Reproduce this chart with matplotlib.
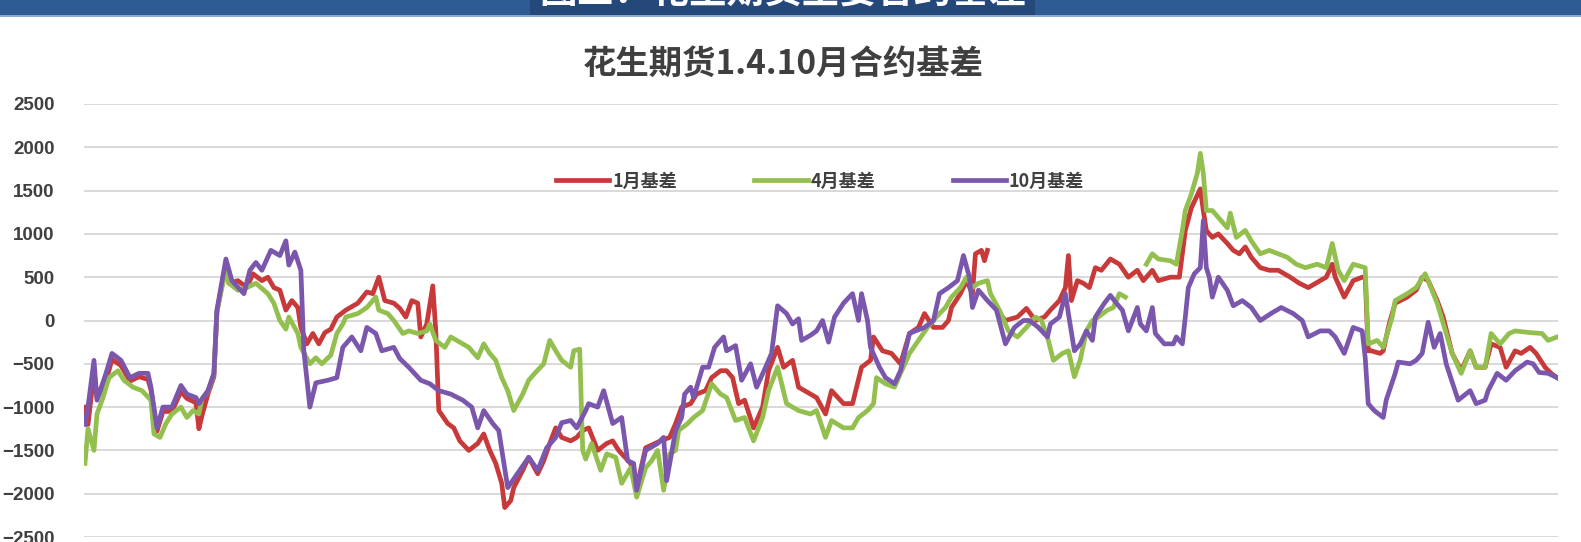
import numpy as np
import matplotlib
matplotlib.use("Agg")
import matplotlib.pyplot as plt
from matplotlib.patches import Rectangle

plt.rcParams['font.family'] = ['Noto Sans CJK SC', 'DejaVu Sans']
plt.rcParams['axes.unicode_minus'] = True

nan = np.nan

# ---- data (trading-day index, basis value) ----
jan_days = [0, 1, 3, 4, 7, 9, 12, 15, 18, 21, 22, 24, 26, 29, 32, 34, 37, 38, 39, 41, 43, 44, 47, 48, 51, 54, 56, 59, 61, 63,
            65, 67, 69, 71, 72, 74, 76, 78, 80, 82, 84, 87, 91, 94, 96, 98, 100, 103, 105, 107, 109, 111, 112, 114, 116, 117,
            118, 121, 123, 125, 128, 131, 133, 135, 137, 139, 140, 142, 143, 146, 148, 151, 153, 155, 157, 159, 162, 164, 166,
            168, 171, 174, 176, 178, 182, 184, 187, 192, 195, 197, 199, 202, 204, 207, 209, 212, 214, 216, 218, 220, 223, 226,
            228, 231, 233, 236, 238, 242, 244, 247, 249, 253, 256, 259, 262, 263, 266, 269, 272, 275, 278, 280, 283, 286, 288,
            289, 292, 294, 296, 297, 299, 300, 301, 303, 306, 307, 311, 314, 317, 320, 322, 325, 327, 328, 329, 331, 333, 335,
            337, 339, 342, 345, 348, 351, 353, 356, 358, 362, 365, 367, 369, 372, 373, 374, 376, 378, 381, 383, 385, 387, 389,
            392, 395, 398, 402, 405, 408, 412, 414, 416, 417, 420, 423, 426, 427, 428, 429, 432, 433, 435, 437, 441, 444, 446,
            448, 451, 453, 456, 459, 462, 464, 467, 469, 472, 474, 477, 479, 482, 484, 487, 489, 491]
jan_vals = [-1000, -1200, -600, -890, -700, -450, -520, -700, -650, -680, -800, -1280, -1050, -1050, -820, -900, -950, -1250,
            -1100, -850, -650, 100, 650, 430, 460, 380, 540, 460, 500, 380,
            350, 120, 230, 150, -80, -270, -150, -270, -140, -100, 40, 120, 200, 330, 310, 500, 230, 200, 140, 40, 230, 200,
            -190, -40, 400, -120,
            -1040, -1190, -1240, -1390, -1500, -1420, -1310, -1500, -1650, -1880, -2160, -2080, -1930, -1730, -1580, -1770,
            -1620, -1420, -1240, -1350, -1390, -1350, -1270,
            -1240, -1500, -1420, -1390, -1500, -1650, -1930, -1470, -1390, -1350, -1190, -1000, -960, -850, -810, -660, -580,
            -580, -660, -960, -920, -1240, -1000,
            -580, -310, -540, -460, -770, -850, -890, -1080, -810, -960, -960, -540, -460, -190, -350, -380, -500, -150, -80,
            80, -80, -80, 0,
            150, 310, 460, 310, 770, 810, 690, 810, nan, 40, 0, 40, 140, 0, 40, 120, 230, 380, 750, 230, 460, 430, 380,
            610, 580, 710, 650, 500, 580, 460, 580, 460, 500, 500, 1040, 1300, 1520, 1270, 1040, 960, 1000, 890, 810, 770,
            850, 730,
            610, 580, 580, 500, 430, 380, 460, 500, 650, 500, 270, 460, 500, 500, -350, -350, -380, -350, -40, 200, 270, 350,
            500,
            460, 230, 40, -380, -580, -350, -540, -540, -270, -310, -540, -350, -380, -310, -380, -540, -610, -660]

apr_days = [0, 1, 3, 4, 6, 8, 11, 13, 16, 19, 22, 23, 25, 27, 29, 32, 34, 36, 38, 39, 41, 43, 44, 47, 48, 51, 54, 57, 61, 63,
            65, 67, 68, 71, 72, 75, 77, 79, 82, 84, 86, 87, 91, 94, 97, 98, 101, 103, 106, 108, 111, 114, 115, 117, 120, 122,
            126, 128, 131, 133, 135, 137, 139, 141, 143, 146, 148, 150, 153, 155, 157, 159, 162, 163, 165, 166, 167, 169, 172,
            174, 177, 179, 182, 184, 187, 189, 191, 193, 195, 197, 198, 201, 203, 206, 209, 212, 214, 217, 220, 223, 226, 228,
            231, 234, 236, 238, 242, 244, 247, 249, 253, 256, 258, 261, 263, 264, 267, 270, 272, 275, 278, 281, 283, 285, 287,
            289, 292, 294, 296, 298, 301, 302, 305, 308, 311, 314, 317, 319, 321, 323, 326, 328, 330, 332, 334, 336, 338, 341,
            343, 345, 347, 350, 354, 356, 358, 362, 364, 366, 367, 369, 371, 372, 373, 374, 376, 378, 381, 382, 384, 387, 389,
            392, 395, 398, 401, 404, 407, 411, 414, 416, 418, 420, 423, 427, 428, 431, 433, 436, 437, 441, 444, 447, 448, 451,
            454, 456, 459, 462, 464, 467, 469, 472, 475, 477, 482, 486, 488, 491]
apr_vals = [-1650, -1250, -1500, -1080, -890, -660, -580, -690, -770, -810, -920, -1310, -1350, -1190, -1080, -1000, -1120,
            -1040, -1080, -900, -820, -620, 100, 600, 430, 350, 380, 430, 310, 200,
            0, -100, 40, -150, -310, -500, -430, -500, -400, -150, -40, 40, 80, 150, 270, 120, 80, 0, -150, -120, -150, -120,
            -40, -230, -310, -190,
            -270, -310, -430, -270, -380, -460, -660, -810, -1040, -850, -690, -610, -500, -230, -350, -460, -540, -350, -330,
            -1500, -1600, -1420, -1730,
            -1540, -1580, -1880, -1700, -2040, -1700, -1620, -1500, -1960, -1540, -1500, -1270, -1190, -1120, -1040, -730,
            -850, -890, -1155, -1120, -1390, -1120, -810,
            -540, -960, -1000, -1040, -1080, -1040, -1350, -1155, -1240, -1240, -1120, -1040, -960, -660, -730, -770, -610,
            -380, -230, -80, 0, 80, 150,
            270, 380, 500, 380, 430, 460, 310, 120, -120, -190, -80, 40, 0, -190, -460, -380, -350, -650, -450, -120, 0, 40,
            120,
            150, 310, 270, nan, 650, 770, 710, 690, 650, 1040, 1270, 1460, 1700, 1930, 1700, 1270, 1270, 1190, 1070, 1240, 960,
            1040, 920,
            770, 810, 770, 730, 650, 610, 650, 610, 890, 580, 460, 650, 610, -270, -230, -310, 40, 230, 310, 380, 540, 460,
            200,
            -150, -380, -610, -350, -540, -540, -150, -270, -150, -120, -140, -150, -230, -190]

oct_days = [0, 1, 3, 4, 7, 9, 12, 15, 18, 21, 22, 24, 26, 29, 32, 34, 37, 38, 41, 43, 44, 47, 49, 53, 55, 57, 59, 62, 65, 67,
            68, 70, 72, 73, 75, 77, 81, 84, 86, 89, 92, 94, 97, 99, 103, 105, 108, 112, 115, 118, 122, 126, 129, 131, 133, 136,
            138, 141, 142, 145, 148, 151, 154, 157, 159, 162, 164, 167, 168, 171, 173, 176, 179, 181, 183, 184, 187, 191, 193,
            194, 197, 199, 200, 202, 203, 206, 208, 210, 213, 214, 217, 219, 222, 224, 227, 229, 231, 234, 236, 238, 239, 242,
            244, 246, 248, 250, 253, 256, 258, 259, 261, 262, 265, 267, 270, 272, 275, 277, 280, 283, 285, 288, 291, 293, 295,
            296, 298, 301, 304, 307, 310, 313, 315, 318, 321, 322, 325, 327, 328, 330, 332, 334, 336, 337, 340, 342, 344, 346,
            348, 351, 352, 354, 356, 357, 360, 363, 364, 366, 367, 368, 370, 372, 373, 374, 375, 376, 378, 381, 383, 386, 389,
            392, 396, 399, 403, 406, 408, 412, 415, 417, 420, 423, 426, 427, 428, 430, 433, 434, 437, 438, 442, 444, 446, 448,
            450, 452, 454, 458, 462, 464, 467, 468, 471, 474, 477, 481, 483, 485, 488, 491]
oct_vals = [-1200, -1000, -460, -920, -610, -380, -460, -660, -610, -610, -770, -1240, -1000, -1000, -750, -850, -890, -960,
            -810, -610, 120, 710, 460, 310, 580, 670, 580, 810, 750, 920,
            640, 790, 580, -350, -1000, -720, -690, -660, -310, -190, -350, -80, -150, -350, -310, -440, -540, -690, -730,
            -810, -850, -920, -1000, -1240, -1040, -1190,
            -1270, -1930, -1880, -1730, -1580, -1730, -1470, -1350, -1180, -1155, -1240, -1040, -960, -1000, -810, -1190,
            -1120, -1620, -1650, -1960, -1500, -1420, -1350,
            -1850, -1270, -1120, -850, -770, -890, -540, -540, -310, -190, -350, -290, -690, -500, -770, -540, -380, 170, 80,
            -40, 20, -230, -170,
            -120, 0, -250, 40, 200, 310, 0, 310, 0, -310, -540, -660, -730, -580, -150, -120, -80, 0, 310, 380, 460, 750, 500,
            150, 350, 230, 120, -270, -80, 0, 0, -80, -190, -40, 40, 310, 80, -350, -270, -120, -230, 40, 200, 290, 200, 120,
            -120, 150, -40, -120, 150, -150, -270, -270, -190, -270, 40, 380, 540, 610, 1155, 610, 500, 270, 500, 350, 170,
            230, 150,
            0, 90, 150, 80, 0, -190, -120, -120, -190, -380, -80, -120, -430, -960, -1040, -1120, -920, -610, -480, -500,
            -460, -380, -20,
            -310, -150, -500, -920, -810, -960, -920, -810, -610, -690, -580, -480, -500, -600, -610, -660]

series_names = ['1月基差', '4月基差', '10月基差']
series_colors = ['#C8393A', '#93BF4E', '#7A57AD']
y_ticks = [2500, 2000, 1500, 1000, 500, 0, -500, -1000, -1500, -2000, -2500]

title_text = '花生期货1.4.10月合约基差'
header_text = '图三：花生期货主要合约基差'

# ---- figure ----
W, H = 1581, 542
fig = plt.figure(figsize=(W / 100, H / 100), dpi=100)
fig.patch.set_facecolor('white')

# header bar
fig.patches.append(Rectangle((0, 1 - 15 / H), 1, 15 / H, transform=fig.transFigure,
                             facecolor='#2E5B93', edgecolor='none', zorder=0))
fig.patches.append(Rectangle((0, 1 - 17 / H), 1, 2 / H, transform=fig.transFigure,
                             facecolor='#8FA9CC', edgecolor='none', zorder=0))
fig.patches.append(Rectangle((530 / W, 1 - 15 / H), 505 / W, 15 / H, transform=fig.transFigure,
                             facecolor='#24487A', edgecolor='none', zorder=0))
fig.text(783 / W, 1 - 11 / H, header_text, ha='center', va='bottom', color='white',
         fontsize=27, fontweight='bold', zorder=2)

# title
fig.text(783 / W, 1 - 64 / H, title_text, ha='center', va='center', color='#3F3F3F',
         fontsize=24, fontweight='bold')

ax = fig.add_axes([84 / W, 1 - 537 / H, (1558 - 84) / W, (537 - 104) / H])
ax.set_facecolor('white')

for days, vals, name, col in [(jan_days, jan_vals, series_names[0], series_colors[0]),
                              (apr_days, apr_vals, series_names[1], series_colors[1]),
                              (oct_days, oct_vals, series_names[2], series_colors[2])]:
    ax.plot(days, vals, color=col, lw=3.4, label=name, solid_joinstyle='round', zorder=3)

ax.set_ylim(-2500, 2500)
ax.set_xlim(-0.33, 491.3)
ax.set_yticks(y_ticks)
ax.set_yticklabels([f'{v}'.replace('-', '\u2212') for v in y_ticks],
                   fontfamily=['Liberation Sans', 'DejaVu Sans'], fontweight='bold',
                   fontsize=13.5, color='#404040')
ax.tick_params(axis='y', length=0, pad=21)
ax.set_xticks([])
ax.grid(axis='y', color='#D9D9D9', lw=1.4, zorder=0)
for s in ax.spines.values():
    s.set_visible(False)

leg = ax.legend(loc='center', bbox_to_anchor=(820 / W, 1 - 181 / H), bbox_transform=fig.transFigure,
                ncol=3, frameon=False, handlelength=2.95, handletextpad=0.15,
                columnspacing=4.3, prop={'weight': 'bold', 'size': 13})
for t in leg.get_texts():
    t.set_color('#404040')

fig.savefig('out.png', dpi=100, facecolor='white')
